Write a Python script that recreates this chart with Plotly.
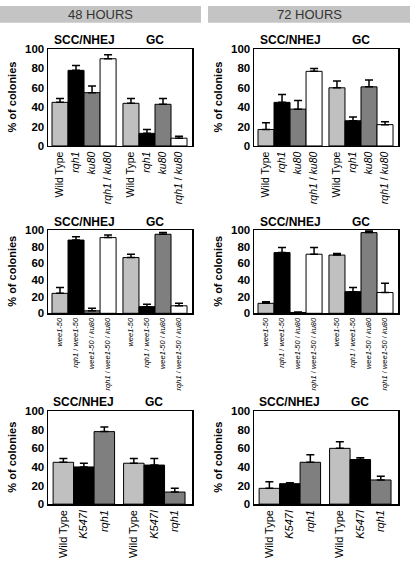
import plotly.graph_objects as go

W, H = 410, 562

# ---------------- data ----------------
ku_labels = ["Wild Type", "<i>rqh1</i>", "<i>ku80</i>", "<i>rqh1</i> / <i>ku80</i>"]
wee_labels = ["<i>wee1-50</i>", "<i>rqh1</i> / <i>wee1-50</i>",
              "<i>wee1-50</i> / <i>ku80</i>", "<i>rqh1</i> / <i>wee1-50</i> / <i>ku80</i>"]
k_labels = ["Wild Type", "<i>K547I</i>", "<i>rqh1</i>"]

h48_ku_scc = [45, 78, 55, 90]
h48_ku_scc_err = [4, 5, 7, 4]
h48_ku_gc = [44, 13, 43, 8]
h48_ku_gc_err = [5, 4, 6, 2]

h72_ku_scc = [17, 45, 38, 77]
h72_ku_scc_err = [7, 8, 9, 3]
h72_ku_gc = [60, 26, 61, 22]
h72_ku_gc_err = [7, 4, 7, 3]

h48_wee_scc = [24, 88, 3, 91]
h48_wee_scc_err = [7, 4, 3, 3]
h48_wee_gc = [67, 8, 95, 9]
h48_wee_gc_err = [4, 3, 2, 3]

h72_wee_scc = [12, 73, 1, 71]
h72_wee_scc_err = [2, 6, 0.5, 8]
h72_wee_gc = [70, 26, 97, 25]
h72_wee_gc_err = [2, 5, 2, 11]

h48_k_scc = [45, 40, 78]
h48_k_scc_err = [4, 4, 5]
h48_k_gc = [44, 42, 13]
h48_k_gc_err = [5, 7, 4]

h72_k_scc = [17, 22, 45]
h72_k_scc_err = [7, 1, 8]
h72_k_gc = [60, 48, 26]
h72_k_gc_err = [7, 2, 4]

y_ticks = [0, 20, 40, 60, 80, 100]
headers = ["48 HOURS", "72 HOURS"]
group_titles = ["SCC/NHEJ", "GC"]

# ---------------- styles ----------------
LIGHT, BLACK, DARK, WHITE = "#c0c0c0", "#000000", "#7f7f7f", "#ffffff"
colors4 = [LIGHT, BLACK, DARK, WHITE]
colors3 = [LIGHT, BLACK, DARK]
FONT = "Liberation Sans, Arial, sans-serif"
NARROW = "Liberation Sans Narrow, Arial Narrow, Liberation Sans, Arial, sans-serif"

col_x = [(48, 192), (254, 398)]
row_y = [(44, 143), (229, 314), (414, 509)]
title_y = [35, 221, 405]

panels = [
    (0, 0, ku_labels, h48_ku_scc, h48_ku_scc_err, h48_ku_gc, h48_ku_gc_err, colors4, 0.43, 10.5, FONT),
    (0, 1, ku_labels, h72_ku_scc, h72_ku_scc_err, h72_ku_gc, h72_ku_gc_err, colors4, 0.43, 10.5, FONT),
    (1, 0, wee_labels, h48_wee_scc, h48_wee_scc_err, h48_wee_gc, h48_wee_gc_err, colors4, 0.43, 7.5, NARROW),
    (1, 1, wee_labels, h72_wee_scc, h72_wee_scc_err, h72_wee_gc, h72_wee_gc_err, colors4, 0.43, 7.5, NARROW),
    (2, 0, k_labels, h48_k_scc, h48_k_scc_err, h48_k_gc, h48_k_gc_err, colors3, 0.44, 11, FONT),
    (2, 1, k_labels, h72_k_scc, h72_k_scc_err, h72_k_gc, h72_k_gc_err, colors3, 0.44, 11, FONT),
]

fig = go.Figure()
layout = {}
annotations = []
shapes = []

for i, (r, c, labels, scc, scc_e, gc, gc_e, cols, gap, lsize, lfont) in enumerate(panels):
    n = len(labels)
    xpos = list(range(n)) + [n + gap + k for k in range(n)]
    vals = scc + gc
    errs = scc_e + gc_e
    ax = "" if i == 0 else str(i + 1)
    fig.add_trace(go.Bar(
        x=xpos, y=vals, width=1.0,
        marker=dict(color=cols + cols, line=dict(color="black", width=1)),
        error_y=dict(type="data", symmetric=False, array=errs, arrayminus=[0] * len(errs),
                     color="black", thickness=1.5, width=4),
        xaxis="x" + ax, yaxis="y" + ax, showlegend=False,
    ))
    x0, x1 = col_x[c]
    y0, y1 = row_y[r]
    xr = [-0.75, xpos[-1] + 0.5 + (0.31 if n == 4 else 0.34)]
    layout["xaxis" + ax] = dict(
        domain=[x0 / W, x1 / W], anchor="y" + ax, range=xr,
        tickvals=xpos, ticktext=labels + labels, tickangle=-90,
        tickfont=dict(family=lfont, size=lsize, color="black"),
        showline=True, linecolor="black", linewidth=1.5, mirror=True,
        showgrid=False, zeroline=False, ticks="", fixedrange=True,
    )
    layout["yaxis" + ax] = dict(
        domain=[1 - y1 / H, 1 - y0 / H], anchor="x" + ax, range=[0, 100],
        tickvals=y_ticks, ticktext=[f"<b>{t}</b>" for t in y_ticks],
        tickfont=dict(family=FONT, size=11.5, color="black"),
        showline=True, linecolor="black", linewidth=1.5, mirror=True,
        showgrid=False, zeroline=False, ticks="", fixedrange=True,
    )
    px_per_unit = (x1 - x0) / (xr[1] - xr[0])
    for g, title in enumerate(group_titles):
        center = (xpos[g * n] + xpos[g * n + n - 1]) / 2
        xc = x0 + (center - xr[0]) * px_per_unit
        annotations.append(dict(
            x=xc / W, y=1 - title_y[r] / H, xref="paper", yref="paper",
            text=f"<b>{title}</b>", showarrow=False,
            font=dict(family=FONT, size=12, color="black"),
            xanchor="center", yanchor="middle",
        ))
    annotations.append(dict(
        x=(x0 - 36) / W, y=1 - (y0 + y1) / 2 / H, xref="paper", yref="paper",
        text="<b>% of colonies</b>", showarrow=False, textangle=-90,
        font=dict(family=FONT, size=11, color="black"),
        xanchor="center", yanchor="middle",
    ))

for j, (hx0, hx1) in enumerate([(0, 201), (208, 410)]):
    shapes.append(dict(type="rect", xref="paper", yref="paper",
                       x0=hx0 / W, x1=hx1 / W, y0=1 - 17 / H, y1=1,
                       fillcolor="#c4c4c4", line=dict(width=0), layer="below"))
    annotations.append(dict(
        x=(hx0 + hx1) / 2 / W, y=1 - 8.5 / H, xref="paper", yref="paper",
        text=headers[j], showarrow=False,
        font=dict(family=FONT, size=13, color="#333333"),
        xanchor="center", yanchor="middle",
    ))

fig.update_layout(
    width=W, height=H,
    margin=dict(l=0, r=0, t=0, b=0),
    paper_bgcolor="white", plot_bgcolor="white",
    bargap=0, annotations=annotations, shapes=shapes,
    font=dict(family=FONT),
    **layout,
)

fig.write_html(
    "out.html",
    config={"displayModeBar": False, "staticPlot": True},
    post_script="document.body.style.margin='0';document.body.style.padding='0';document.body.style.overflow='hidden';",
)
